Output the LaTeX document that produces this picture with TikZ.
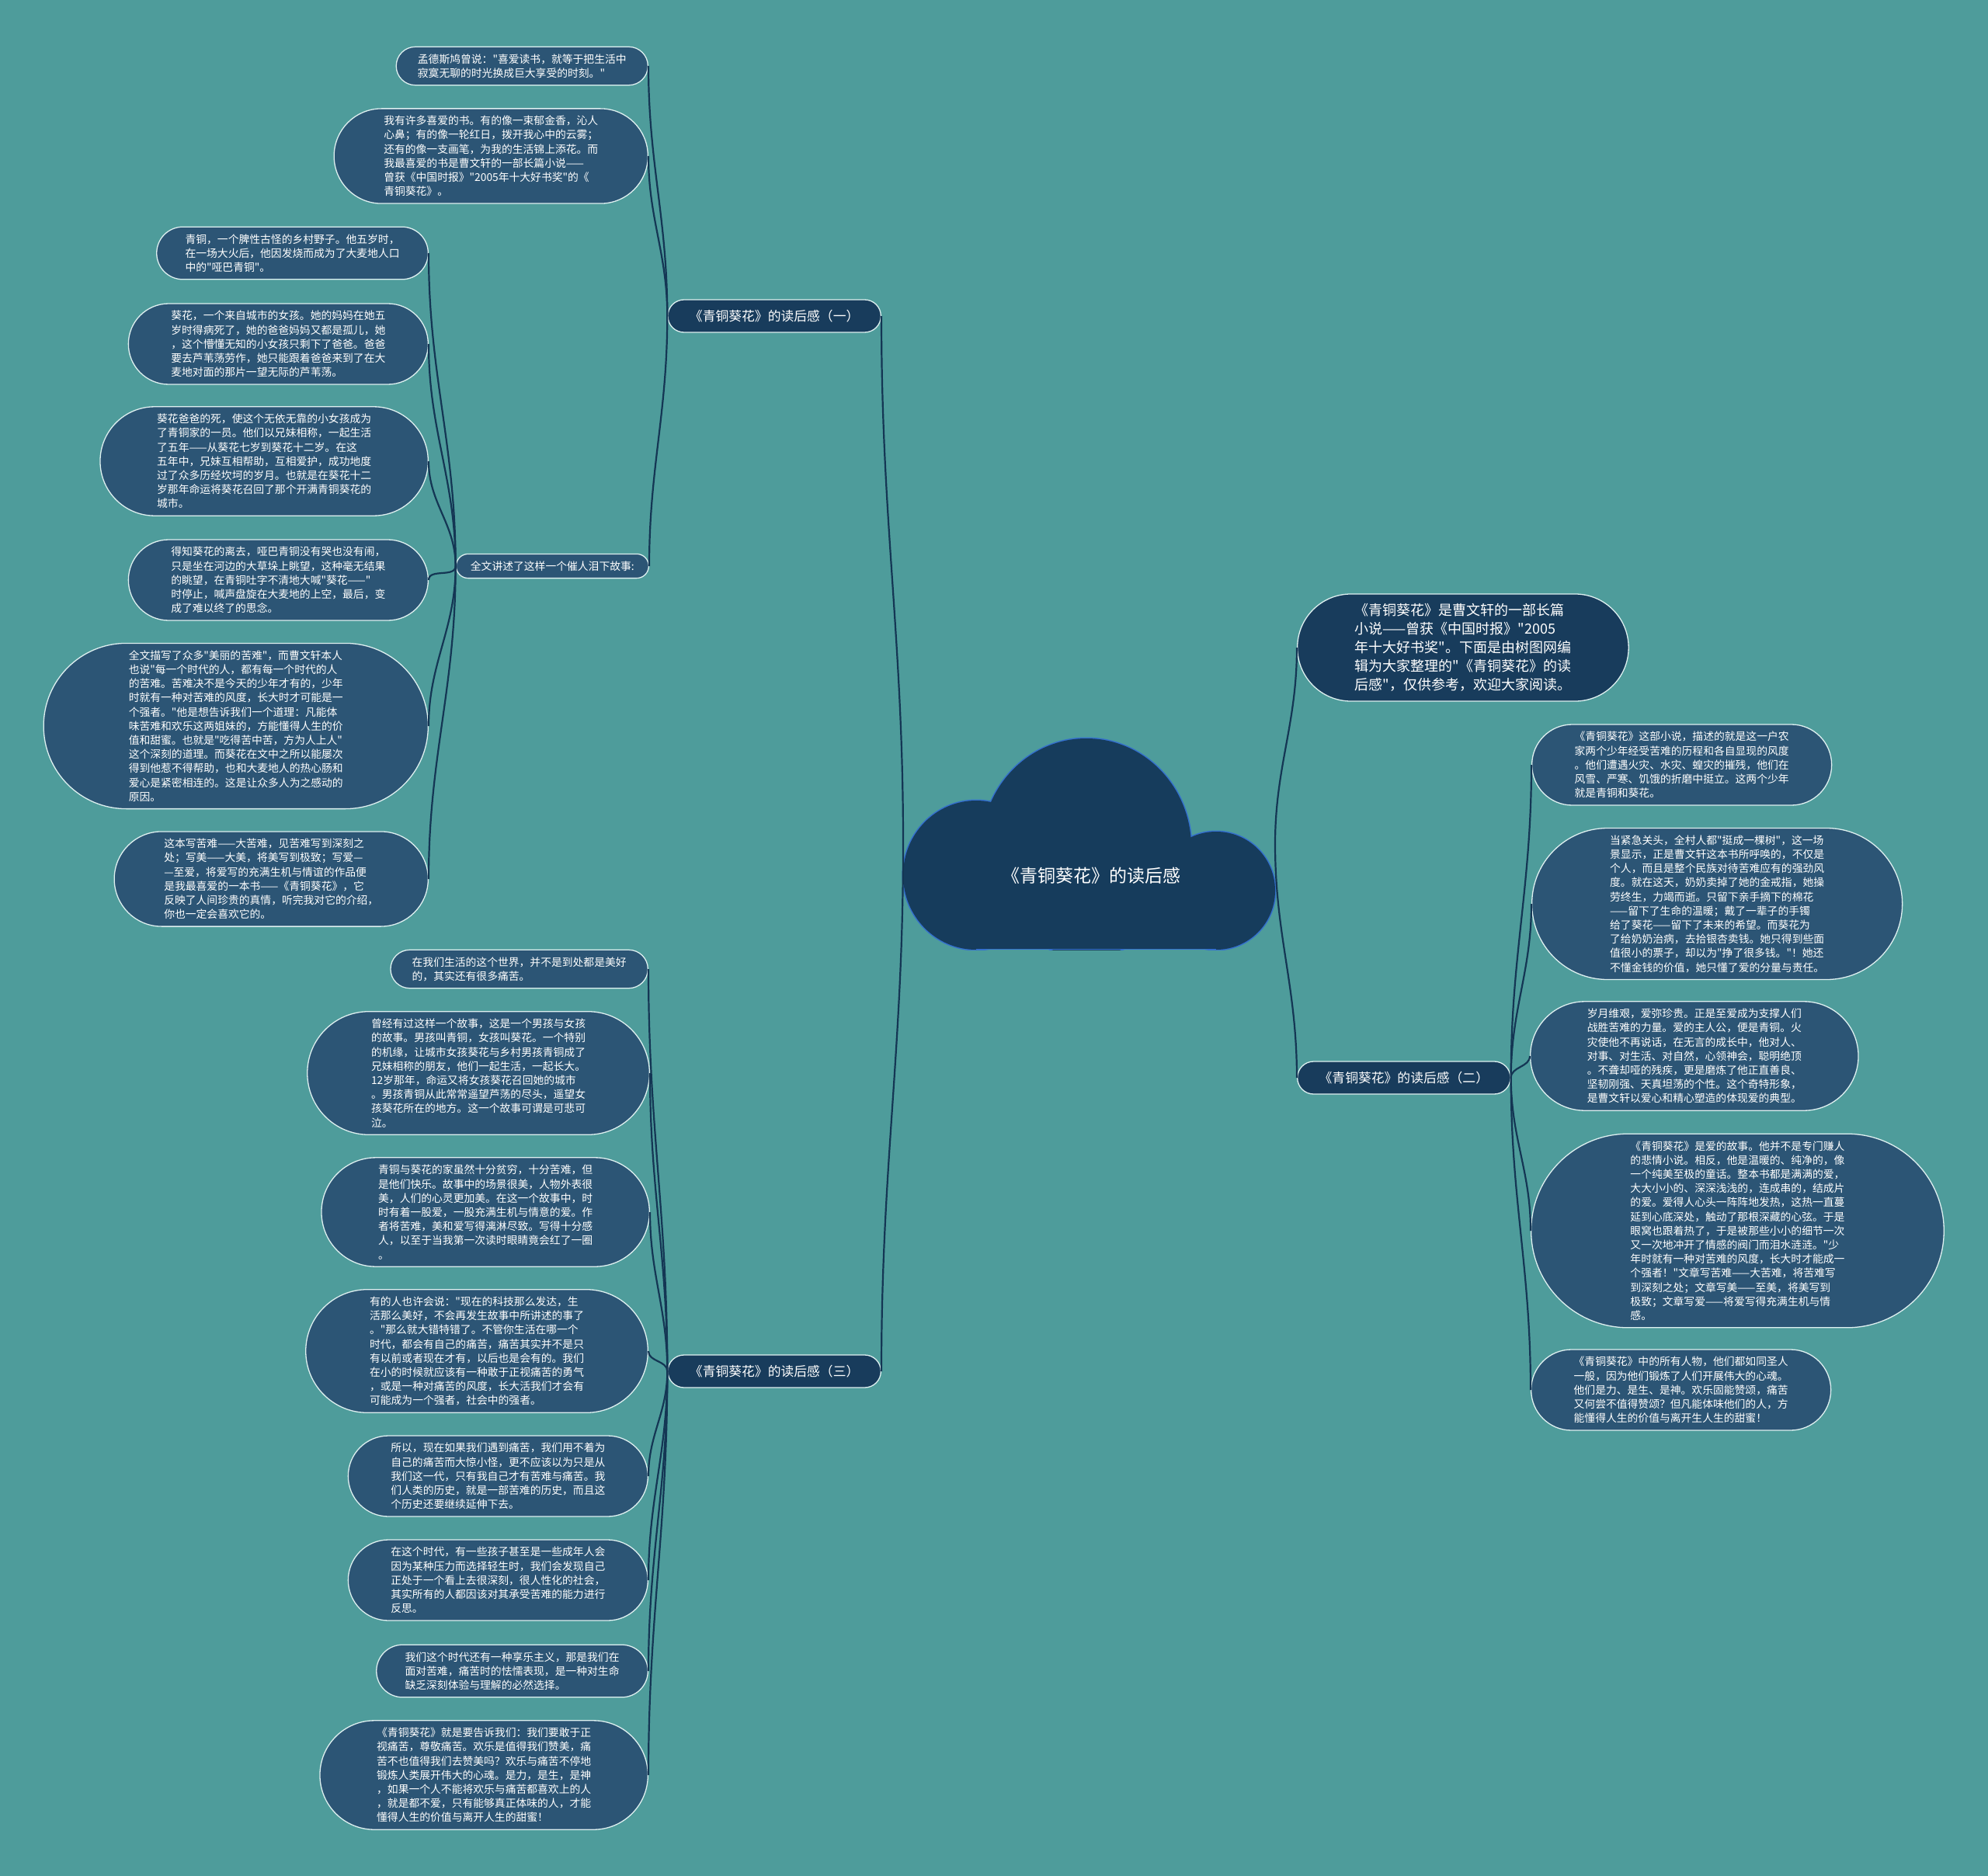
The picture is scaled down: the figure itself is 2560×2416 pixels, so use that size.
\documentclass[tikz,border=0pt]{standalone}
\usepackage{fontspec}
\setmainfont{Noto Sans CJK SC}[Ligatures=TeXOff]
\usetikzlibrary{positioning}
\definecolor{bgc}{RGB}{78,156,155}
\definecolor{nodec}{RGB}{44,85,117}
\definecolor{darkc}{RGB}{24,60,92}
\definecolor{cloudc}{RGB}{22,60,92}
\definecolor{cloudedge}{RGB}{52,112,205}
\definecolor{edgec}{RGB}{222,240,240}
\definecolor{linkc}{RGB}{20,54,84}

\begin{document}
\begin{tikzpicture}[
  x=1pt, y=1pt,
  txt/.style={rectangle, draw=edgec, line width=1.3pt, fill=nodec, text=white, align=left, font=\fontsize{13.8}{18.2}\selectfont, inner ysep=0pt, minimum height={18.2*#1+13}, inner xsep={9.1*#1+9.5}, rounded corners={9.1*#1+6.4}},
  branch/.style={rectangle, draw=edgec, line width=1.3pt, fill=darkc, text=white, font=\fontsize{16.8}{20}\selectfont, inner ysep=0pt, inner xsep=28pt, minimum height=42pt, rounded corners=20.9pt},
  intro/.style={rectangle, draw=edgec, line width=1.3pt, fill=darkc, text=white, align=left, font=\fontsize{18}{24}\selectfont, inner ysep=0pt, inner xsep=74pt, minimum height=138pt, rounded corners=68.9pt},
  rootlabel/.style={text=white, font=\fontsize{23}{26}\selectfont},
  cloudline/.style={draw=cloudedge, line width=3pt},
  link/.style={draw=linkc, line width=2.2pt},
  goup/.style={out=90, in=-90},
  godown/.style={out=-90, in=90}
]
\fill[bgc] (0,0) rectangle (2560,-2416);
\useasboundingbox (0,0) rectangle (2560,-2416);

% cloud
\begin{scope}
  \clip (1100,-900) rectangle (1700,-1223);
  \foreach \cx/\cy/\rx/\ry in {1257/-1127/94/96, 1399/-1091/135/140, 1566/-1147/76/76}
    \draw[cloudline] (\cx,\cy) ellipse [x radius=\rx, y radius=\ry];
  \foreach \cx/\cy/\rx/\ry in {1257/-1127/94/96, 1399/-1091/135/140, 1566/-1147/76/76}
    \fill[cloudc] (\cx,\cy) ellipse [x radius=\rx, y radius=\ry];
  \fill[cloudc] (1257,-1127) rectangle (1566,-1223);
\end{scope}
\draw[draw=cloudedge, line width=1.5pt] (1257,-1222.3) -- (1566,-1222.3);
\node[rootlabel] (root) at (1405,-1128) {《青铜葵花》的读后感};
\coordinate (cloudL) at (1163,-1087);
\coordinate (cloudR) at (1642,-1087);

\node[branch, anchor=east] (b1) at (1135,-407) {《青铜葵花》的读后感（一）};
\node[branch, anchor=west] (b2) at (1670,-1388) {《青铜葵花》的读后感（二）};
\node[branch, anchor=east] (b3) at (1135,-1766) {《青铜葵花》的读后感（三）};
\node[intro, anchor=west] (intro) at (1670,-834) {《青铜葵花》是曹文轩的一部长篇\\小说——曾获《中国时报》"2005\\年十大好书奖"。下面是由树图网编\\辑为大家整理的"《青铜葵花》的读\\后感"，仅供参考，欢迎大家阅读。};

\node[txt=2, anchor=east] (l1) at (835,-85) {孟德斯鸠曾说："喜爱读书，就等于把生活中\\寂寞无聊的时光换成巨大享受的时刻。"};
\node[txt=6, anchor=east] (l2) at (835,-201) {我有许多喜爱的书。有的像一束郁金香，沁人\\心鼻；有的像一轮红日，拨开我心中的云雾；\\还有的像一支画笔，为我的生活锦上添花。而\\我最喜爱的书是曹文轩的一部长篇小说——\\曾获《中国时报》"2005年十大好书奖"的《\\青铜葵花》。};
\node[txt=1, anchor=east] (story) at (836,-729) {全文讲述了这样一个催人泪下故事:};

\node[txt=3, anchor=east] (l3) at (552,-326) {青铜，一个脾性古怪的乡村野子。他五岁时，\\在一场大火后，他因发烧而成为了大麦地人口\\中的"哑巴青铜"。};
\node[txt=5, anchor=east] (l4) at (552,-443) {葵花，一个来自城市的女孩。她的妈妈在她五\\岁时得病死了，她的爸爸妈妈又都是孤儿，她\\，这个懵懂无知的小女孩只剩下了爸爸。爸爸\\要去芦苇荡劳作，她只能跟着爸爸来到了在大\\麦地对面的那片一望无际的芦苇荡。};
\node[txt=7, anchor=east] (l5) at (552,-594) {葵花爸爸的死，使这个无依无靠的小女孩成为\\了青铜家的一员。他们以兄妹相称，一起生活\\了五年——从葵花七岁到葵花十二岁。在这\\五年中，兄妹互相帮助，互相爱护，成功地度\\过了众多历经坎坷的岁月。也就是在葵花十二\\岁那年命运将葵花召回了那个开满青铜葵花的\\城市。};
\node[txt=5, anchor=east] (l6) at (552,-747) {得知葵花的离去，哑巴青铜没有哭也没有闹，\\只是坐在河边的大草垛上眺望，这种毫无结果\\的眺望，在青铜吐字不清地大喊"葵花——"\\时停止，喊声盘旋在大麦地的上空，最后，变\\成了难以终了的思念。};
\node[txt=11, anchor=east] (l7) at (552,-935) {全文描写了众多"美丽的苦难"，而曹文轩本人\\也说"每一个时代的人，都有每一个时代的人\\的苦难。苦难决不是今天的少年才有的，少年\\时就有一种对苦难的风度，长大时才可能是一\\个强者。"他是想告诉我们一个道理：凡能体\\味苦难和欢乐这两姐妹的，方能懂得人生的价\\值和甜蜜。也就是"吃得苦中苦，方为人上人"\\这个深刻的道理。而葵花在文中之所以能屡次\\得到他惹不得帮助，也和大麦地人的热心肠和\\爱心是紧密相连的。这是让众多人为之感动的\\原因。};
\node[txt=6, anchor=east] (l8) at (552,-1132) {这本写苦难——大苦难，见苦难写到深刻之\\处；写美——大美，将美写到极致；写爱—\\—至爱，将爱写的充满生机与情谊的作品便\\是我最喜爱的一本书——《青铜葵花》，它\\反映了人间珍贵的真情，听完我对它的介绍，\\你也一定会喜欢它的。};

\node[txt=2, anchor=east] (m1) at (835,-1248) {在我们生活的这个世界，并不是到处都是美好\\的，其实还有很多痛苦。};
\node[txt=8, anchor=east] (m2) at (837,-1382) {曾经有过这样一个故事，这是一个男孩与女孩\\的故事。男孩叫青铜，女孩叫葵花。一个特别\\的机缘，让城市女孩葵花与乡村男孩青铜成了\\兄妹相称的朋友，他们一起生活，一起长大。\\12岁那年，命运又将女孩葵花召回她的城市\\。男孩青铜从此常常遥望芦荡的尽头，遥望女\\孩葵花所在的地方。这一个故事可谓是可悲可\\泣。};
\node[txt=7, anchor=east] (m3) at (837,-1561) {青铜与葵花的家虽然十分贫穷，十分苦难，但\\是他们快乐。故事中的场景很美，人物外表很\\美，人们的心灵更加美。在这一个故事中，时\\时有着一股爱，一股充满生机与情意的爱。作\\者将苦难，美和爱写得漓淋尽致。写得十分感\\人，以至于当我第一次读时眼睛竟会红了一圈\\。};
\node[txt=8, anchor=east] (m4) at (835,-1740) {有的人也许会说："现在的科技那么发达，生\\活那么美好，不会再发生故事中所讲述的事了\\。"那么就大错特错了。不管你生活在哪一个\\时代，都会有自己的痛苦，痛苦其实并不是只\\有以前或者现在才有，以后也是会有的。我们\\在小的时候就应该有一种敢于正视痛苦的勇气\\，或是一种对痛苦的风度，长大活我们才会有\\可能成为一个强者，社会中的强者。};
\node[txt=5, anchor=east] (m5) at (835,-1901) {所以，现在如果我们遇到痛苦，我们用不着为\\自己的痛苦而大惊小怪，更不应该以为只是从\\我们这一代，只有我自己才有苦难与痛苦。我\\们人类的历史，就是一部苦难的历史，而且这\\个历史还要继续延伸下去。};
\node[txt=5, anchor=east] (m6) at (835,-2035) {在这个时代，有一些孩子甚至是一些成年人会\\因为某种压力而选择轻生时，我们会发现自己\\正处于一个看上去很深刻，很人性化的社会，\\其实所有的人都因该对其承受苦难的能力进行\\反思。};
\node[txt=3, anchor=east] (m7) at (835,-2152) {我们这个时代还有一种享乐主义，那是我们在\\面对苦难，痛苦时的怯懦表现，是一种对生命\\缺乏深刻体验与理解的必然选择。};
\node[txt=7, anchor=east] (m8) at (835,-2286) {《青铜葵花》就是要告诉我们：我们要敢于正\\视痛苦，尊敬痛苦。欢乐是值得我们赞美，痛\\苦不也值得我们去赞美吗？欢乐与痛苦不停地\\锻炼人类展开伟大的心魂。是力，是生，是神\\，如果一个人不能将欢乐与痛苦都喜欢上的人\\，就是都不爱，只有能够真正体味的人，才能\\懂得人生的价值与离开人生的甜蜜！};

\node[txt=5, anchor=west] (r1) at (1972,-985) {《青铜葵花》这部小说，描述的就是这一户农\\家两个少年经受苦难的历程和各自显现的风度\\。他们遭遇火灾、水灾、蝗灾的摧残，他们在\\风雪、严寒、饥饿的折磨中挺立。这两个少年\\就是青铜和葵花。};
\node[txt=10, anchor=west] (r2) at (1972,-1164) {当紧急关头，全村人都"挺成一棵树"，这一场\\景显示，正是曹文轩这本书所呼唤的，不仅是\\个人，而且是整个民族对待苦难应有的强劲风\\度。就在这天，奶奶卖掉了她的金戒指，她操\\劳终生，力竭而逝。只留下亲手摘下的棉花\\——留下了生命的温暖；戴了一辈子的手镯\\给了葵花——留下了未来的希望。而葵花为\\了给奶奶治病，去拾银杏卖钱。她只得到些面\\值很小的票子，却以为"挣了很多钱。"！她还\\不懂金钱的价值，她只懂了爱的分量与责任。};
\node[txt=7, anchor=west] (r3) at (1970,-1360) {岁月维艰，爱弥珍贵。正是至爱成为支撑人们\\战胜苦难的力量。爱的主人公，便是青铜。火\\灾使他不再说话，在无言的成长中，他对人、\\对事、对生活、对自然，心领神会，聪明绝顶\\。不聋却哑的残疾，更是磨炼了他正直善良、\\坚韧刚强、天真坦荡的个性。这个奇特形象，\\是曹文轩以爱心和精心塑造的体现爱的典型。};
\node[txt=13, anchor=west] (r4) at (1971,-1585) {《青铜葵花》是爱的故事。他并不是专门赚人\\的悲情小说。相反，他是温暖的、纯净的，像\\一个纯美至极的童话。整本书都是满满的爱，\\大大小小的、深深浅浅的，连成串的，结成片\\的爱。爱得人心头一阵阵地发热，这热一直蔓\\延到心底深处，触动了那根深藏的心弦。于是\\眼窝也跟着热了，于是被那些小小的细节一次\\又一次地冲开了情感的阀门而泪水涟涟。"少\\年时就有一种对苦难的风度，长大时才能成一\\个强者！"文章写苦难——大苦难，将苦难写\\到深刻之处；文章写美——至美，将美写到\\极致；文章写爱——将爱写得充满生机与情\\感。};
\node[txt=5, anchor=west] (r5) at (1971,-1790) {《青铜葵花》中的所有人物，他们都如同圣人\\一般，因为他们锻炼了人们开展伟大的心魂。\\他们是力、是生、是神。欢乐固能赞颂，痛苦\\又何尝不值得赞颂？但凡能体味他们的人，方\\能懂得人生的价值与离开生人生的甜蜜！};

\draw[link] (cloudL) to[goup] (b1.east);
\draw[link] (cloudL) to[godown] (b3.east);
\draw[link] (cloudR) to[goup] (intro.west);
\draw[link] (cloudR) to[godown] (b2.west);

\draw[link] (b1.west) to[goup] (l1.east);
\draw[link] (b1.west) to[goup] (l2.east);
\draw[link] (b1.west) to[godown] (story.east);

\draw[link] (story.west) to[goup] (l3.east);
\draw[link] (story.west) to[goup] (l4.east);
\draw[link] (story.west) to[goup] (l5.east);
\draw[link] (story.west) to[godown] (l6.east);
\draw[link] (story.west) to[godown] (l7.east);
\draw[link] (story.west) to[godown] (l8.east);

\draw[link] (b3.west) to[goup] (m1.east);
\draw[link] (b3.west) to[goup] (m2.east);
\draw[link] (b3.west) to[goup] (m3.east);
\draw[link] (b3.west) to[goup] (m4.east);
\draw[link] (b3.west) to[godown] (m5.east);
\draw[link] (b3.west) to[godown] (m6.east);
\draw[link] (b3.west) to[godown] (m7.east);
\draw[link] (b3.west) to[godown] (m8.east);

\draw[link] (b2.east) to[goup] (r1.west);
\draw[link] (b2.east) to[goup] (r2.west);
\draw[link] (b2.east) to[goup] (r3.west);
\draw[link] (b2.east) to[godown] (r4.west);
\draw[link] (b2.east) to[godown] (r5.west);
\end{tikzpicture}
\end{document}
